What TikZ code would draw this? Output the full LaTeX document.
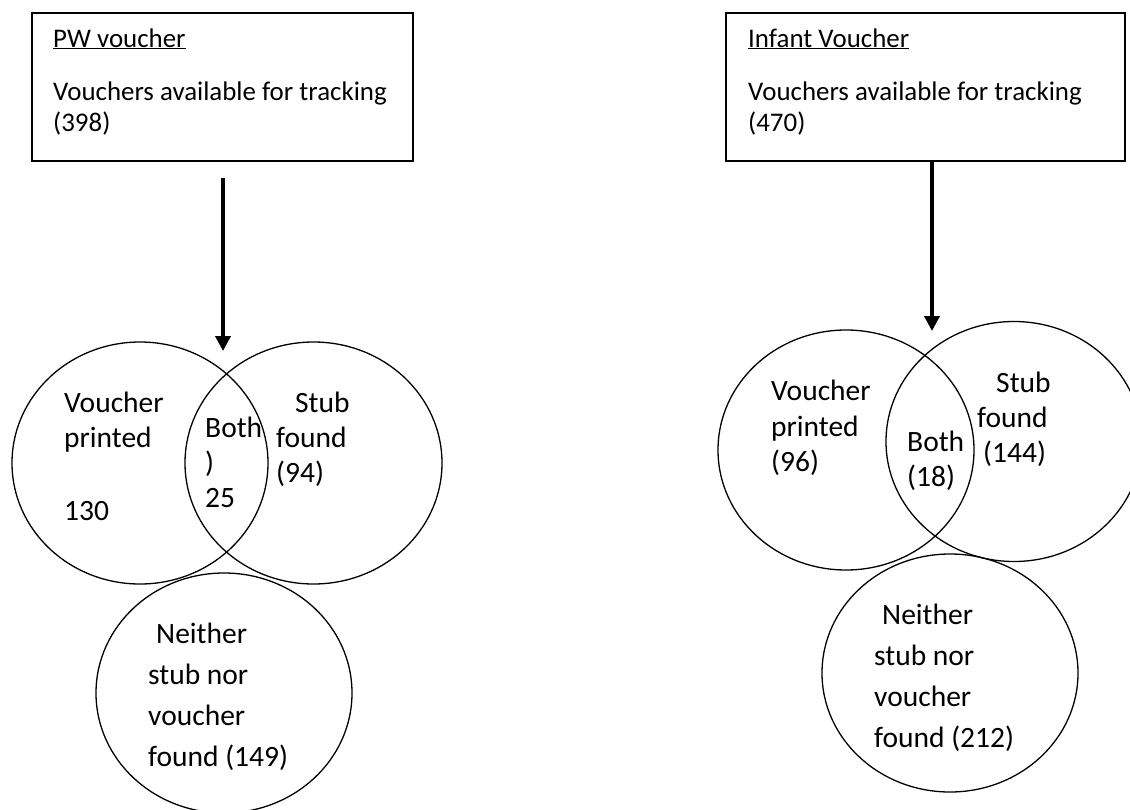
\documentclass[tikz,border=0pt]{standalone}
\usepackage{fontspec}
\setmainfont{Carlito}
\usetikzlibrary{arrows.meta}
\begin{document}
\begin{tikzpicture}[x=1pt,y=-1pt,
  boxtxt/.style={anchor=base west,inner sep=0pt,font=\fontsize{26.9}{32}\selectfont},
  ctxt/.style={anchor=base west,inner sep=0pt,font=\fontsize{29.5}{35}\selectfont},
  frame/.style={draw,line width=1.5pt,inner sep=0pt},
  venn/.style={draw,line width=1.3pt},
  flow/.style={line width=3.6pt,-{Triangle[width=15pt,length=15pt]}}]
\useasboundingbox (0,0) rectangle (1130,809);
% boxes
\node[frame,minimum width=381pt,minimum height=148pt] (boxL) at (222.5,87) {};
\node[frame,minimum width=399pt,minimum height=148pt] (boxR) at (925.5,87) {};
\node[boxtxt] (tL1) at (53,47) {\underline{PW voucher}};
\node[boxtxt] (tL2) at (53,100) {Vouchers available for tracking};
\node[boxtxt] (tL3) at (53,131) {(398)};
\node[boxtxt] (tR1) at (748,47) {\underline{Infant Voucher}};
\node[boxtxt] (tR2) at (748,100) {Vouchers available for tracking};
\node[boxtxt] (tR3) at (748,131) {(470)};
% left venn
\draw[venn] (140,463) ellipse [x radius=128,y radius=121];
\draw[venn] (313.5,463) ellipse [x radius=128.5,y radius=121];
\draw[venn] (224,693) ellipse [x radius=128,y radius=120];
\coordinate (aL1) at (223,178);
\coordinate (aL2) at (223,351);
\draw[flow] (aL1) -- (aL2);
\node[ctxt] (lv1) at (64,412) {Voucher};
\node[ctxt] (lv2) at (64,447) {printed};
\node[ctxt] (lv3) at (64,520) {130};
\node[ctxt] (lb1) at (205,437) {Both};
\node[ctxt] (lb2) at (205,472) {)};
\node[ctxt] (lb3) at (205,507) {25};
\node[ctxt] (ls1) at (295,412) {Stub};
\node[ctxt] (ls2) at (276,447) {found};
\node[ctxt] (ls3) at (276,482) {(94)};
\node[ctxt] (ln1) at (156,643) {Neither};
\node[ctxt] (ln2) at (148,684) {stub nor};
\node[ctxt] (ln3) at (148,725) {voucher};
\node[ctxt] (ln4) at (148,766) {found (149)};
% right venn
\draw[venn] (846,450) ellipse [x radius=128,y radius=120];
\draw[venn] (1014,441.5) ellipse [x radius=128,y radius=120];
\draw[venn] (950,673) ellipse [x radius=128,y radius=119];
\coordinate (aR1) at (932,161);
\coordinate (aR2) at (932,331);
\draw[flow] (aR1) -- (aR2);
\node[ctxt] (rv1) at (771,400) {Voucher};
\node[ctxt] (rv2) at (771,436) {printed};
\node[ctxt] (rv3) at (771,471) {(96)};
\node[ctxt] (rb1) at (907,451) {Both};
\node[ctxt] (rb2) at (907,486) {(18)};
\node[ctxt] (rs1) at (996,392) {Stub};
\node[ctxt] (rs2) at (977,427) {found};
\node[ctxt] (rs3) at (983,462) {(144)};
\node[ctxt] (rn1) at (882,624) {Neither};
\node[ctxt] (rn2) at (874,665) {stub nor};
\node[ctxt] (rn3) at (874,706) {voucher};
\node[ctxt] (rn4) at (874,747) {found (212)};
\end{tikzpicture}
\end{document}
